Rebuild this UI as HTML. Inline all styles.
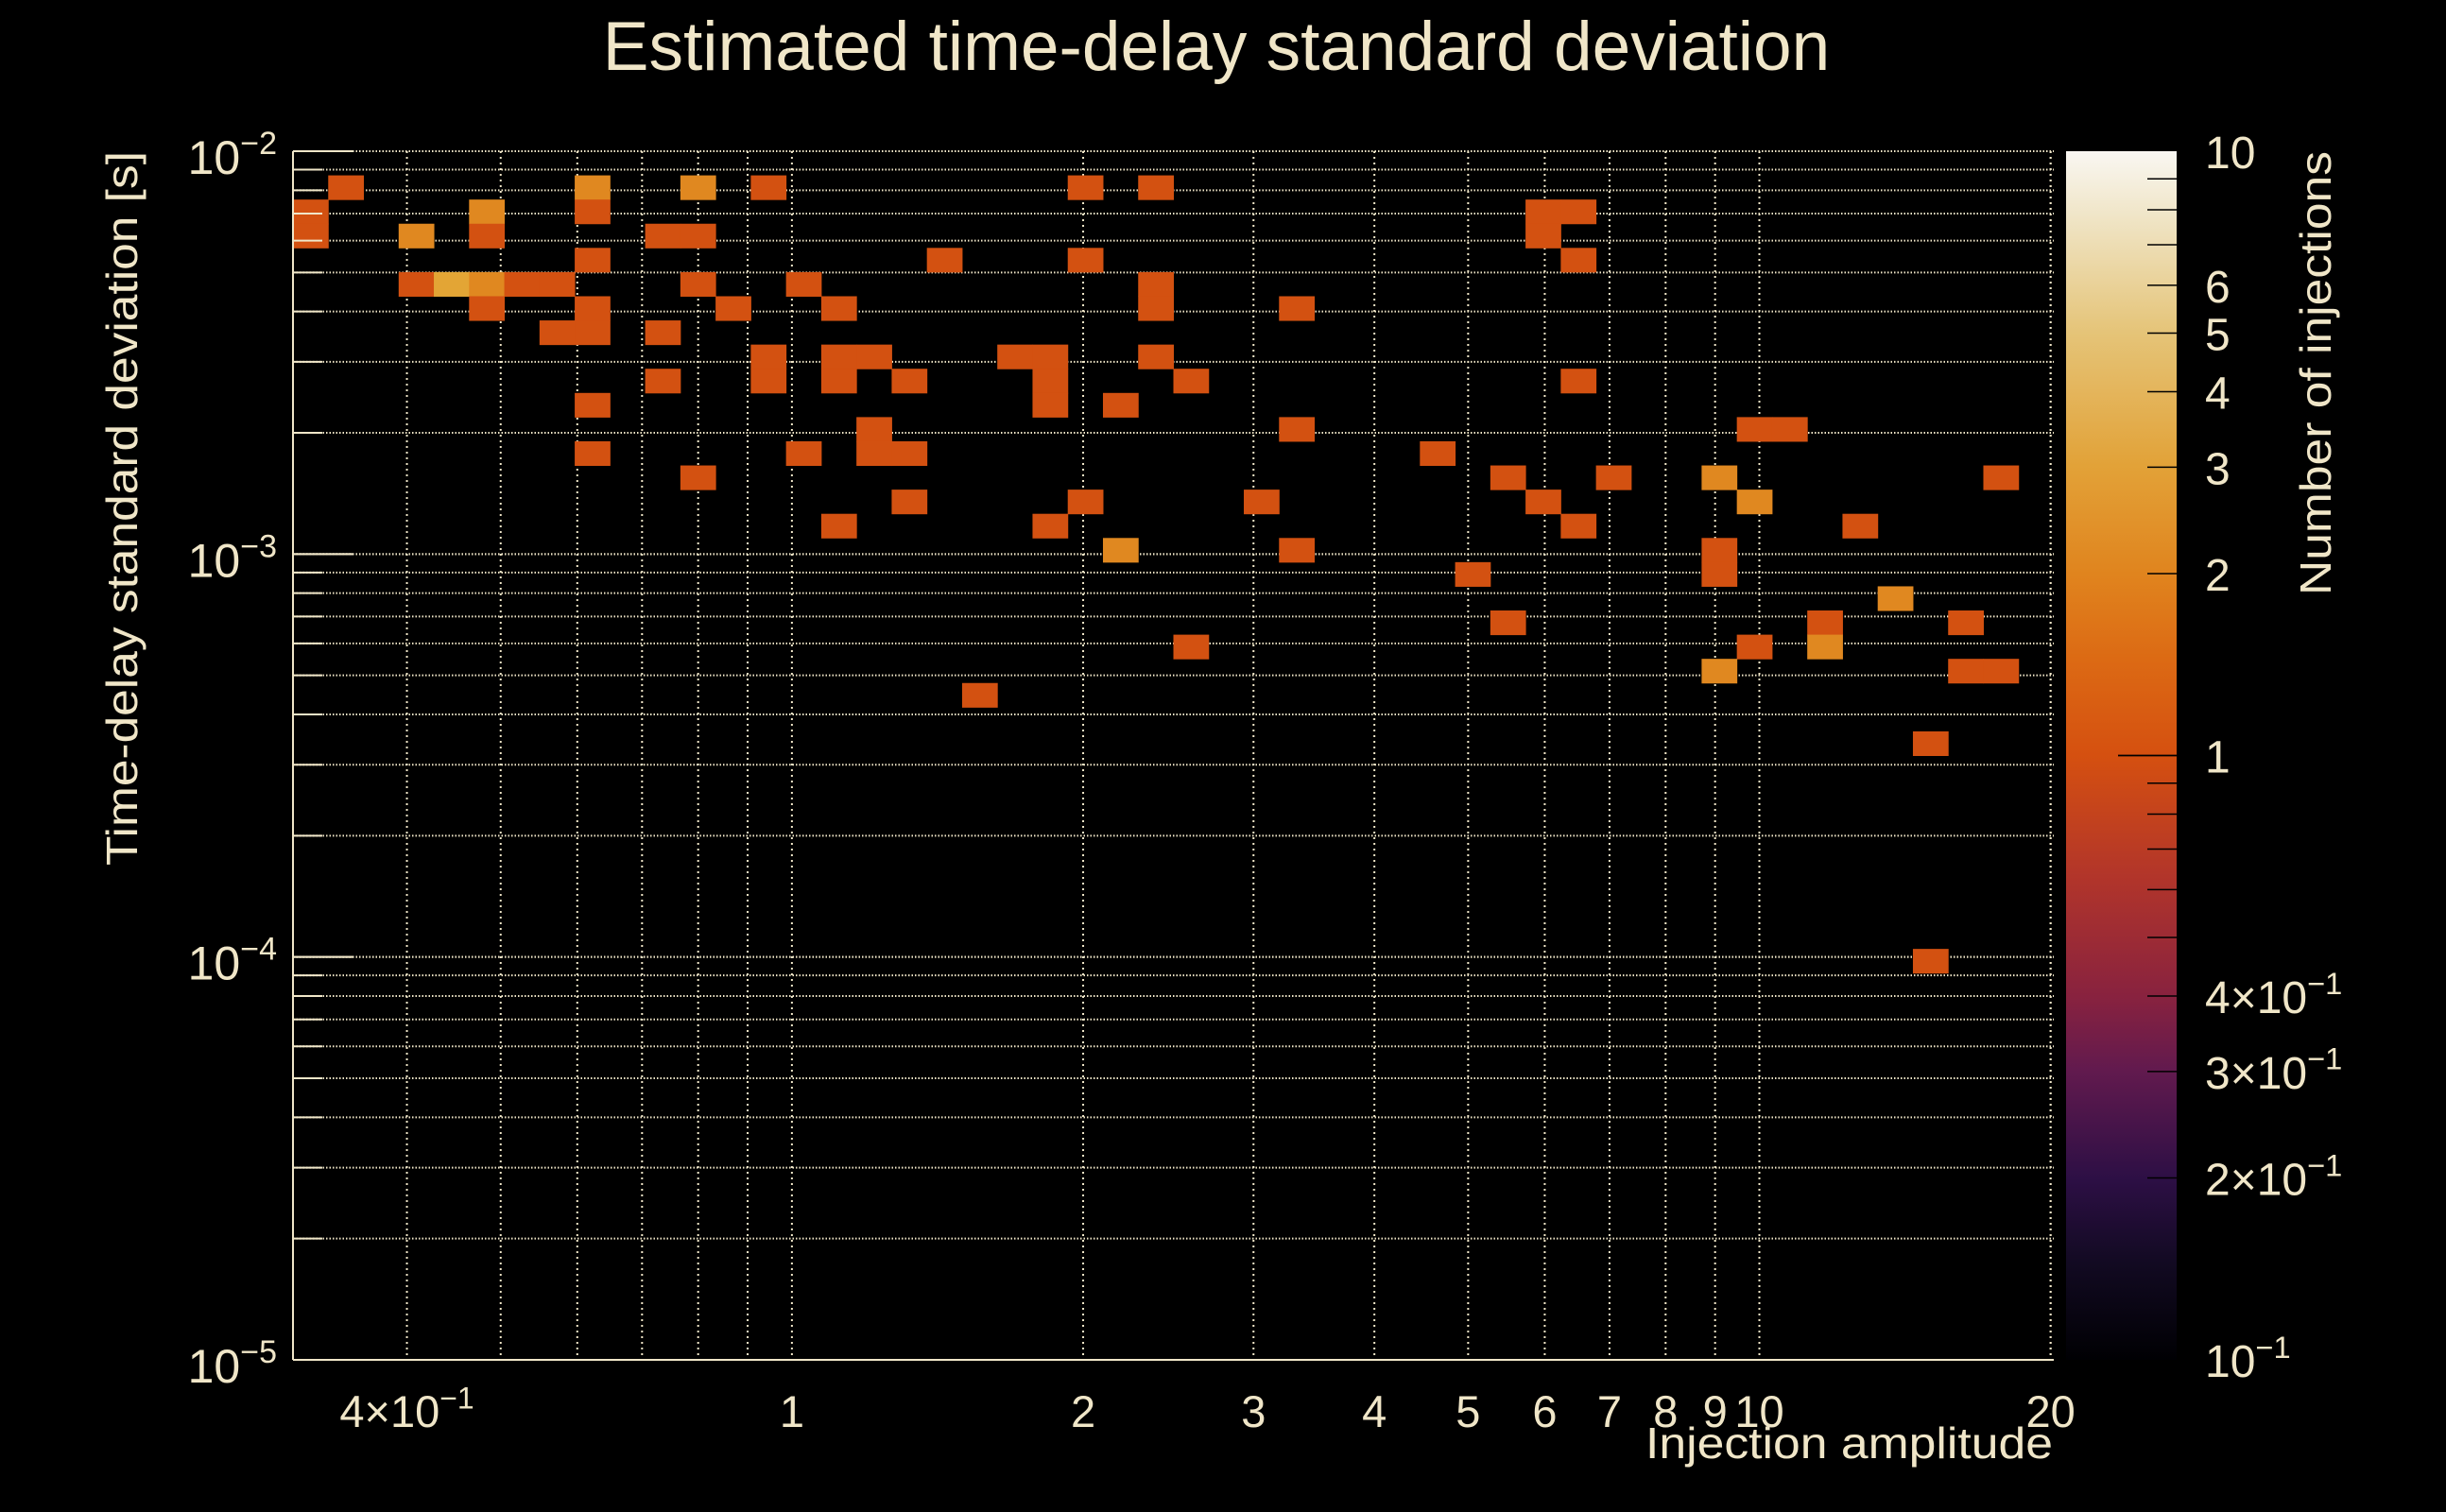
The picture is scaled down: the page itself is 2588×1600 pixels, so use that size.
<!DOCTYPE html>
<html><head><meta charset="utf-8"><style>
html,body{margin:0;padding:0;background:#000;}
svg{display:block;}
text{font-family:"Liberation Sans",sans-serif;fill:#f0e6c8;}
</style></head><body>
<svg id="chart" xmlns="http://www.w3.org/2000/svg" width="2588" height="1600" viewBox="0 0 2588 1600">
<defs>
<linearGradient id="cmap" x1="0" y1="1" x2="0" y2="0">
<stop offset="0" stop-color="#000003"/>
<stop offset="0.08" stop-color="#120a22"/>
<stop offset="0.15" stop-color="#2d0f45"/>
<stop offset="0.24" stop-color="#621a4e"/>
<stop offset="0.30" stop-color="#88223f"/>
<stop offset="0.40" stop-color="#b2352a"/>
<stop offset="0.50" stop-color="#d55010"/>
<stop offset="0.58" stop-color="#dc6a14"/>
<stop offset="0.65" stop-color="#e0841e"/>
<stop offset="0.74" stop-color="#e2a238"/>
<stop offset="0.85" stop-color="#e5c478"/>
<stop offset="0.94" stop-color="#efe3c2"/>
<stop offset="1" stop-color="#f9f7f2"/>
</linearGradient>
</defs>
<rect x="0" y="0" width="2588" height="1600" fill="#000"/>
<g id="grid"></g>
<g id="cells"></g>
<g id="axes"></g>
<g id="cbar"></g>
<text x="1287" y="74" font-size="73" text-anchor="middle">Estimated time-delay standard deviation</text>
<text x="2172" y="1543" font-size="46" text-anchor="end" textLength="431" lengthAdjust="spacingAndGlyphs">Injection amplitude</text>
<text transform="translate(145,538) rotate(-90)" font-size="46" text-anchor="middle" textLength="756" lengthAdjust="spacingAndGlyphs">Time-delay standard deviation [s]</text>
<text transform="translate(2466,395) rotate(-90)" font-size="46" text-anchor="middle" textLength="470" lengthAdjust="spacingAndGlyphs">Number of injections</text>
</svg>
<script>
// ---- data ----
const amplitude = [0.340,0.613,0.788,0.932,1.986,2.349,
 0.313,0.476,0.613,5.916,6.434,
 0.313,0.403,0.476,0.725,0.788,5.916,
 0.613,1.419,1.986,6.434,
 0.403,0.438,0.476,0.518,0.563,0.788,1.014,2.349,
 0.476,0.613,0.857,1.103,2.349,3.287,
 0.563,0.613,0.725,
 0.932,1.103,1.200,1.679,1.826,2.349,
 0.725,0.932,1.103,1.305,1.826,2.555,6.434,
 0.613,1.826,2.160,
 1.200,3.287,9.793,10.65,
 0.613,1.014,1.200,1.305,4.598,
 0.788,5.439,6.998,9.003,17.63,
 1.305,1.986,3.022,5.916,9.793,
 1.103,1.826,6.434,12.60,
 2.160,3.287,9.003,
 5.001,9.003,
 13.70,
 5.439,11.58,16.21,
 2.555,9.793,11.58,
 9.003,16.21,17.63,
 1.543,
 14.90,
 14.90];
const delay = [8.13e-3,8.13e-3,8.13e-3,8.13e-3,8.13e-3,8.13e-3,
 7.08e-3,7.08e-3,7.08e-3,7.08e-3,7.08e-3,
 6.17e-3,6.17e-3,6.17e-3,6.17e-3,6.17e-3,6.17e-3,
 5.37e-3,5.37e-3,5.37e-3,5.37e-3,
 4.68e-3,4.68e-3,4.68e-3,4.68e-3,4.68e-3,4.68e-3,4.68e-3,4.68e-3,
 4.07e-3,4.07e-3,4.07e-3,4.07e-3,4.07e-3,4.07e-3,
 3.55e-3,3.55e-3,3.55e-3,
 3.09e-3,3.09e-3,3.09e-3,3.09e-3,3.09e-3,3.09e-3,
 2.69e-3,2.69e-3,2.69e-3,2.69e-3,2.69e-3,2.69e-3,2.69e-3,
 2.34e-3,2.34e-3,2.34e-3,
 2.04e-3,2.04e-3,2.04e-3,2.04e-3,
 1.78e-3,1.78e-3,1.78e-3,1.78e-3,1.78e-3,
 1.55e-3,1.55e-3,1.55e-3,1.55e-3,1.55e-3,
 1.35e-3,1.35e-3,1.35e-3,1.35e-3,1.35e-3,
 1.17e-3,1.17e-3,1.17e-3,1.17e-3,
 1.02e-3,1.02e-3,1.02e-3,
 8.91e-4,8.91e-4,
 7.76e-4,
 6.76e-4,6.76e-4,6.76e-4,
 5.89e-4,5.89e-4,5.89e-4,
 5.13e-4,5.13e-4,5.13e-4,
 4.47e-4,
 3.39e-4,
 9.77e-5];
const counts = [1,2,2,1,1,1,
 1,2,1,1,1,
 1,2,1,1,1,1,
 1,1,1,1,
 1,3,2,1,1,1,1,1,
 1,1,1,1,1,1,
 1,1,1,
 1,1,1,1,1,1,
 1,1,1,1,1,1,1,
 1,1,1,
 1,1,1,1,
 1,1,1,1,1,
 1,1,1,2,1,
 1,1,1,1,2,
 1,1,1,1,
 2,1,1,
 1,1,
 2,
 1,1,1,
 1,1,2,
 2,1,1,
 1,
 1,
 1];
const xTickValues = [0.4,1,2,3,4,5,6,7,8,9,10,20];
const xTickLabels = ["4×10|−1","1","2","3","4","5","6","7","8","9","10","20"];
const yTickValues = [1e-2,1e-3,1e-4,1e-5];
const yTickLabels = ["10|−2","10|−3","10|−4","10|−5"];
const cbTickValues = [10,6,5,4,3,2,1,0.4,0.3,0.2,0.1];
const cbTickLabels = ["10","6","5","4","3","2","1","4×10|−1","3×10|−1","2×10|−1","10|−1"];

// ---- geometry ----
const NS="http://www.w3.org/2000/svg";
const X0=310,X1=2173,Y0=160,Y1=1439;
const LXMIN=-0.5157,LXMAX=1.3043,LYMIN=-5,LYMAX=-2,NB=50;
function xScale(v){return X0+(Math.log10(v)-LXMIN)/(LXMAX-LXMIN)*(X1-X0);}
function yScale(v){return Y1-(Math.log10(v)-LYMIN)/(LYMAX-LYMIN)*(Y1-Y0);}
const CB_X=2186,CB_W=117;
function cbScale(v){return Y0+(1-Math.log10(v))/2*(Y1-Y0);}
function mk(tag,attrs,parent){const e=document.createElementNS(NS,tag);for(const k in attrs)e.setAttribute(k,attrs[k]);parent.appendChild(e);return e;}
function colorFor(c){
  if(c>=3) return "#e3a535";
  if(c>=2) return "#e08820";
  return "#d35111";
}
function labelText(parent,x,y,s,size,anchor){
  const t=mk('text',{x:x,y:y,'font-size':size,'text-anchor':anchor},parent);
  const p=s.split('|');
  const a=document.createElementNS(NS,'tspan');a.textContent=p[0];t.appendChild(a);
  if(p[1]){const b=document.createElementNS(NS,'tspan');b.setAttribute('dy',-size*0.42);b.setAttribute('font-size',size*0.68);b.textContent=p[1];t.appendChild(b);}
  return t;
}

// grid
const grid=document.getElementById('grid');
for(let d=-1;d<=1;d++){for(let m=1;m<=9;m++){const v=m*Math.pow(10,d);
  if(v<0.31||v>20.1) continue;
  const x=xScale(v);
  const l=mk('line',{x1:x,x2:x,y1:Y0,y2:Y1,stroke:'#f0e6c8','stroke-width':2,'stroke-dasharray':'2,4'},grid);
  
  
}}
mk('line',{x1:xScale(20),x2:xScale(20),y1:Y0,y2:Y1,stroke:'#f0e6c8','stroke-width':2,'stroke-dasharray':'2,4'},grid);
for(let d=-5;d<=-3;d++){for(let m=1;m<=10;m++){const v=m*Math.pow(10,d);
  const y=yScale(v);
  const l=mk('line',{x1:X0,x2:X1,y1:y,y2:y,stroke:'#f0e6c8','stroke-width':2,'stroke-dasharray':'1.5,2'},grid);
  
  
}}

// cells
const cells=document.getElementById('cells');
const bw=(LXMAX-LXMIN)/NB, bh=(LYMAX-LYMIN)/NB;
for(let i=0;i<counts.length;i++){
  const ix=Math.floor((Math.log10(amplitude[i])-LXMIN)/bw);
  const iy=Math.floor((Math.log10(delay[i])-LYMIN)/bh);
  const xa=xScale(Math.pow(10,LXMIN+ix*bw)), xb=xScale(Math.pow(10,LXMIN+(ix+1)*bw));
  const ya=yScale(Math.pow(10,LYMIN+(iy+1)*bh)), yb=yScale(Math.pow(10,LYMIN+iy*bh));
  const r=mk('rect',{x:xa,y:ya,width:xb-xa+0.5,height:yb-ya+0.5,fill:colorFor(counts[i])},cells);
  
  
}

// axes
const axes=document.getElementById('axes');
mk('line',{x1:X0,x2:X0,y1:Y0,y2:Y1,stroke:'#f0e6c8','stroke-width':2},axes);
mk('line',{x1:X0,x2:X1,y1:Y1,y2:Y1,stroke:'#f0e6c8','stroke-width':2},axes);
for(let d=-5;d<=-3;d++){for(let m=1;m<=10;m++){const v=m*Math.pow(10,d);const y=yScale(v);
  const major=(m===1||m===10);
  mk('line',{x1:X0,x2:X0+(major?63:31),y1:y,y2:y,stroke:'#f0e6c8','stroke-width':2},axes);
}}
for(let i=0;i<xTickValues.length;i++){
  const t=labelText(axes,xScale(xTickValues[i]),1510,xTickLabels[i],47,'middle');
  
  
}
for(let i=0;i<yTickValues.length;i++){
  const t=labelText(axes,293,yScale(yTickValues[i])+24,yTickLabels[i],50,'end');
  
  
}

// colorbar
const cb=document.getElementById('cbar');
const bar=mk('rect',{x:CB_X,y:Y0,width:CB_W,height:Y1-Y0,fill:'url(#cmap)'},cb);


for(let d=-1;d<=0;d++){for(let m=1;m<=10;m++){const v=m*Math.pow(10,d);
  if(v<=0.1||v>=10) continue;
  const y=cbScale(v);
  mk('line',{x1:(v===1?CB_X+55:CB_X+CB_W-31),x2:CB_X+CB_W,y1:y,y2:y,stroke:'#000','stroke-width':1.5},cb);
}}
for(let i=0;i<cbTickValues.length;i++){
  const t=labelText(cb,2333,cbScale(cbTickValues[i])+18,cbTickLabels[i],48,'start');
  
  
}
</script>
</body></html>
